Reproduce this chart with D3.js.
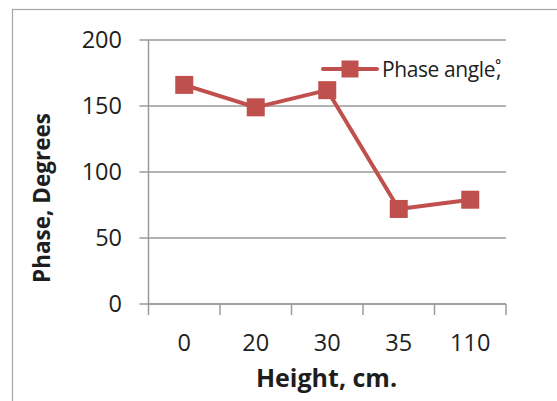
<!DOCTYPE html>
<html>
<head>
<meta charset="utf-8">
<script src="https://cdn.jsdelivr.net/npm/d3@7"></script>
<style>
  html, body { margin: 0; padding: 0; background: #fff; }
  svg { display: block; font-family: "Open Sans", "Noto Sans", sans-serif; }
</style>
</head>
<body>
<svg id="chart" width="557" height="401"></svg>
<script>
// Phase angle measured at each height
const heights = ["0", "20", "30", "35", "110"];
const phaseAngles = [166, 149, 162, 72, 79];
const yTicks = [0, 50, 100, 150, 200];
const seriesName = "Phase angle";
const xTitle = "Height, cm.";
const yTitle = "Phase, Degrees";

const svg = d3.select("#chart");
const color = "#C0504D";
const gridColor = "#9a9a9a";
const textColor = "#1e1e1e";

const plot = { left: 148.5, right: 506, top: 40, bottom: 304 };

// Chart frame
svg.append("rect")
  .attr("x", 12.5).attr("y", 9.5)
  .attr("width", 700).attr("height", 500)
  .attr("fill", "none").attr("stroke", "#a6a6a6").attr("stroke-width", 1.2);

const x = d3.scaleBand().domain(heights).range([plot.left, plot.right]).padding(0);
const y = d3.scaleLinear().domain([0, 200]).range([plot.bottom, plot.top]);

// Horizontal gridlines with short outer ticks
svg.append("g").selectAll("line").data(yTicks).join("line")
  .attr("x1", plot.left - 9).attr("x2", plot.right)
  .attr("y1", d => y(d)).attr("y2", d => y(d))
  .attr("stroke", gridColor).attr("stroke-width", 1.5);

// Y axis labels
svg.append("g").selectAll("text").data(yTicks).join("text")
  .attr("x", 122).attr("y", d => y(d))
  .attr("dy", "0.36em")
  .attr("text-anchor", "end")
  .attr("font-size", 23.5)
  .attr("fill", textColor)
  .text(d => d);

// Y axis line
svg.append("line")
  .attr("x1", plot.left).attr("x2", plot.left)
  .attr("y1", plot.top).attr("y2", plot.bottom)
  .attr("stroke", gridColor).attr("stroke-width", 1.5);

// X axis with category boundary ticks
const xg = svg.append("g").attr("transform", `translate(0,${plot.bottom})`);
xg.append("line")
  .attr("x1", plot.left).attr("x2", plot.right)
  .attr("stroke", gridColor).attr("stroke-width", 1.5);
const boundaries = heights.map(h => x(h)).concat([x(heights[heights.length - 1]) + x.bandwidth()]);
xg.selectAll("line.tick").data(boundaries).join("line")
  .attr("class", "tick")
  .attr("x1", d => d).attr("x2", d => d)
  .attr("y1", 0).attr("y2", 11)
  .attr("stroke", gridColor).attr("stroke-width", 1.5);
xg.selectAll("text.lab").data(heights).join("text")
  .attr("class", "lab")
  .attr("x", d => x(d) + x.bandwidth() / 2)
  .attr("y", 47)
  .attr("text-anchor", "middle")
  .attr("font-size", 23.5)
  .attr("fill", textColor)
  .text(d => d);

// Series line and markers
const cx = d => x(d) + x.bandwidth() / 2;
const pts = heights.map((h, i) => [cx(h), y(phaseAngles[i])]);
svg.append("path")
  .attr("d", d3.line()(pts))
  .attr("fill", "none").attr("stroke", color)
  .attr("stroke-width", 4).attr("stroke-linejoin", "round");
const ms = 18;
svg.append("g").selectAll("rect").data(pts).join("rect")
  .attr("x", d => d[0] - ms / 2).attr("y", d => d[1] - ms / 2)
  .attr("width", ms).attr("height", ms)
  .attr("fill", color);

// Legend
const lg = svg.append("g").attr("transform", "translate(323,69)");
lg.append("line").attr("x1", 0).attr("x2", 54).attr("y1", 0).attr("y2", 0)
  .attr("stroke", color).attr("stroke-width", 4).attr("stroke-linecap", "round");
lg.append("rect").attr("x", 27 - 8.5).attr("y", -8.5).attr("width", 17).attr("height", 17)
  .attr("fill", color);
const lt = lg.append("text").attr("x", 59).attr("y", 0).attr("dy", "0.36em")
  .attr("font-size", 21).attr("fill", textColor)
  .attr("letter-spacing", -0.4);
lt.append("tspan").text(seriesName);
lt.append("tspan").text("˚");
lt.append("tspan").attr("dx", -5).text(",");

// Axis titles
svg.append("text")
  .attr("x", 326.5).attr("y", 387)
  .attr("text-anchor", "middle")
  .attr("font-size", 25).attr("font-weight", "bold")
  .attr("fill", textColor)
  .text(xTitle);
svg.append("text")
  .attr("transform", "translate(50,198) rotate(-90)")
  .attr("text-anchor", "middle")
  .attr("font-size", 22.5).attr("font-weight", "bold")
  .attr("fill", textColor)
  .text(yTitle);
</script>
</body>
</html>
